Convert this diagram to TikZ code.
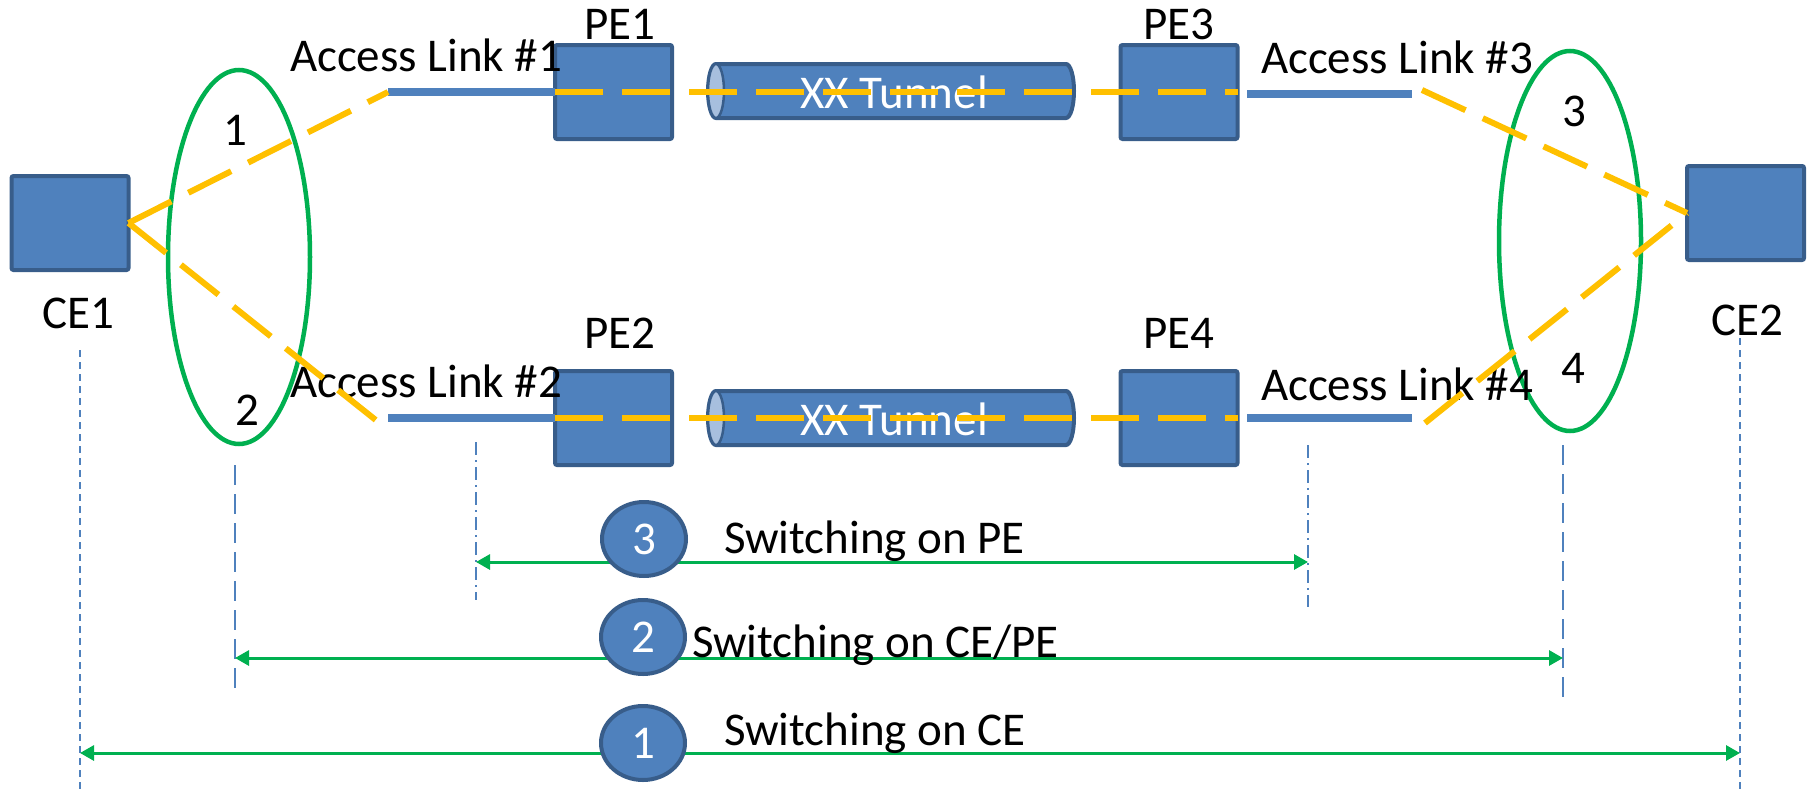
\documentclass[tikz,border=0pt]{standalone}
\usepackage{fontspec}
\setmainfont{Carlito}
\usetikzlibrary{arrows.meta,shapes.geometric}
\definecolor{boxfill}{HTML}{4F81BD}
\definecolor{boxline}{HTML}{385D8A}
\definecolor{capfill}{HTML}{A7BFDE}
\definecolor{grn}{HTML}{00B050}
\definecolor{ylw}{HTML}{FFC000}
\begin{document}
\begin{tikzpicture}[x=1pt,y=-1pt,
  every node/.style={font=\fontsize{47}{55}\selectfont, inner sep=0pt, outer sep=0pt},
  devbox/.style={draw=boxline, fill=boxfill, line width=4pt, rounded corners=2pt, minimum width=117pt, minimum height=94pt},
  tunbody/.style={draw=boxline, fill=boxfill, line width=4pt},
  tuncap/.style={draw=boxline, fill=capfill, line width=2.5pt},
  tuntext/.style={text=white, anchor=base},
  grpell/.style={draw=grn, line width=4.5pt, ellipse},
  yline/.style={draw=ylw, line width=6pt, dash pattern=on 48pt off 19pt},
  bline/.style={draw=boxfill, line width=7.5pt},
  guide/.style={draw=boxfill, line width=1.6pt, dash pattern=on 7pt off 5pt},
  guidelong/.style={draw=boxfill, line width=1.6pt, dash pattern=on 20pt off 9pt},
  guidedot/.style={draw=boxfill, line width=1.6pt, dash pattern=on 13pt off 5pt on 2pt off 5pt},
  arr/.style={draw=grn, line width=3pt, {Triangle[length=14pt,width=15pt]}-{Triangle[length=14pt,width=15pt]}},
  numcirc/.style={ellipse, draw=boxline, fill=boxfill, line width=4pt, minimum width=84pt, minimum height=74pt, text=white},
  lbl/.style={anchor=base},
  lblw/.style={anchor=base west}]
\useasboundingbox (0,0) rectangle (1810,790);

% vertical guide lines
\coordinate (v1t) at (80,350);   \coordinate (v1b) at (80,790);
\coordinate (v2t) at (235,465);  \coordinate (v2b) at (235,693);
\coordinate (v3t) at (476,442);  \coordinate (v3b) at (476,600);
\coordinate (v4t) at (1308,445); \coordinate (v4b) at (1308,607);
\coordinate (v5t) at (1563,445); \coordinate (v5b) at (1563,698);
\coordinate (v6t) at (1740,338); \coordinate (v6b) at (1740,790);
\draw[guide] (v1t) -- (v1b);
\draw[guidelong] (v2t) -- (v2b);
\draw[guidedot] (v3t) -- (v3b);
\draw[guidedot] (v4t) -- (v4b);
\draw[guidelong] (v5t) -- (v5b);
\draw[guide] (v6t) -- (v6b);

% green ellipses
\node[grpell, minimum width=142pt, minimum height=374pt] (G1) at (239,257) {};
\node[grpell, minimum width=142pt, minimum height=380pt] (G2) at (1570,241) {};

% devices
\node[devbox] (CE1) at (70,223) {};
\node[devbox] (CE2) at (1745.5,213) {};
\node[devbox] (PE1) at (613.5,92) {};
\node[devbox] (PE2) at (613.5,418) {};
\node[devbox] (PE3) at (1179,92) {};
\node[devbox] (PE4) at (1179,418) {};

% access links
\coordinate (al1) at (388,92);  \coordinate (al2) at (388,418);
\coordinate (al3) at (1412,94); \coordinate (al4) at (1412,418);
\coordinate (p3e) at (1247,94); \coordinate (p4e) at (1247,418);
\draw[bline] (al1) -- (PE1.west);
\draw[bline] (al2) -- (PE2.west);
\draw[bline] (p3e) -- (al3);
\draw[bline] (p4e) -- (al4);

% tunnels
\begin{scope}[shift={(708,91)}]
  \path[tunbody] (8,-27) -- (358,-27) arc[start angle=-90,end angle=90,x radius=8,y radius=27]
     -- (8,27) arc[start angle=90,end angle=270,x radius=8,y radius=27] -- cycle;
  \path[tuncap] (8,0) ellipse[x radius=8,y radius=27];
\end{scope}
\begin{scope}[shift={(708,418)}]
  \path[tunbody] (8,-27) -- (358,-27) arc[start angle=-90,end angle=90,x radius=8,y radius=27]
     -- (8,27) arc[start angle=90,end angle=270,x radius=8,y radius=27] -- cycle;
  \path[tuncap] (8,0) ellipse[x radius=8,y radius=27];
\end{scope}
\node[tuntext] (T1) at (894,108) {XX Tunnel};
\node[tuntext] (T2) at (894,435) {XX Tunnel};

% labels
\node[lblw] (L1) at (290,71) {Access Link \#1};
\node[lblw] (L2) at (290,397) {Access Link \#2};
\node[lblw] (L3) at (1261,73) {Access Link \#3};
\node[lblw] (L4) at (1261,400) {Access Link \#4};
\node[lbl] (tPE1) at (620,39) {PE1};
\node[lbl] (tPE2) at (620,348) {PE2};
\node[lbl] (tPE3) at (1179,39) {PE3};
\node[lbl] (tPE4) at (1179,348) {PE4};
\node[lbl] (tCE1) at (78,328) {CE1};
\node[lbl] (tCE2) at (1747,335) {CE2};
\node[lbl] (n1) at (235,145) {1};
\node[lbl] (n2) at (247,425) {2};
\node[lbl] (n3) at (1574,126) {3};
\node[lbl] (n4) at (1573,383) {4};

% yellow paths
\coordinate (y3) at (1422,90); \coordinate (y4) at (1425,423);
\draw[yline] (CE1.east) -- (al1);
\draw[yline] (CE1.east) -- (377,421) coordinate (y2);
\draw[yline] (PE1.west) -- (PE3.east);
\draw[yline] (PE2.west) -- (PE4.east);
\draw[yline] (y3) -- (CE2.west);
\draw[yline] (y4) -- (CE2.west);

% switching arrows
\coordinate (a3l) at (476,562);  \coordinate (a3r) at (1308,562);
\coordinate (a2l) at (235,658);  \coordinate (a2r) at (1563,658);
\coordinate (a1l) at (80,753);   \coordinate (a1r) at (1740,753);
\draw[arr] (a3l) -- (a3r);
\draw[arr] (a2l) -- (a2r);
\draw[arr] (a1l) -- (a1r);
\node[numcirc] (c3) at (644,539) {3};
\node[numcirc] (c2) at (643,637) {2};
\node[numcirc] (c1) at (643,743) {1};
\node[lblw] (s3) at (724,553) {Switching on PE};
\node[lblw] (s2) at (692,657) {Switching on CE/PE};
\node[lblw] (s1) at (724,745) {Switching on CE};
\end{tikzpicture}
\end{document}
